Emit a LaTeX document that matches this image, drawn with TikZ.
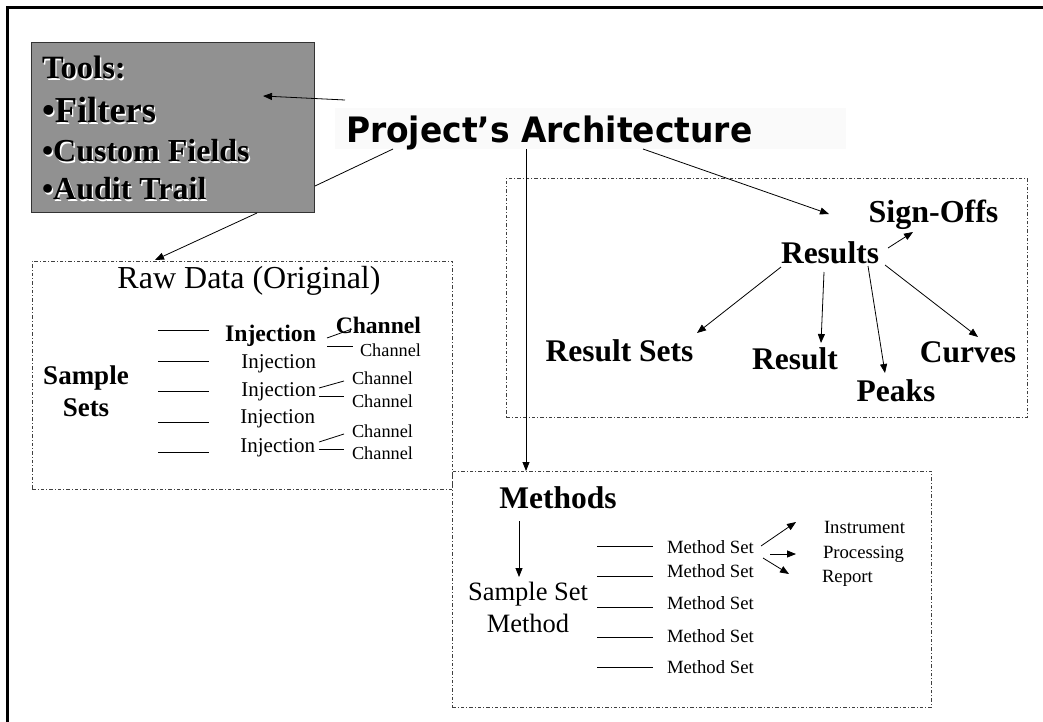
\documentclass[tikz,border=0pt]{standalone}
\usepackage{fontspec}
\setmainfont{Liberation Serif}
\newfontfamily\titlefont[FakeStretch=0.94]{DejaVu Sans}
\usetikzlibrary{arrows.meta}
\tikzset{
  lbl/.style={inner sep=0pt,outer sep=0pt,anchor=base,text=black},
  mid/.style={lbl,font=\fontsize{31.5}{31.5}\selectfont\bfseries},
  ser/.style={lbl,font=\fontsize{21}{21}\selectfont},
  small/.style={lbl,font=\fontsize{18.3}{18.3}\selectfont},
  tiny/.style={lbl,font=\fontsize{18.7}{18.7}\selectfont},
  toolt/.style={lbl,anchor=base west},
  zone/.style={draw=black!75,line width=0.8pt,dash pattern=on 3.5pt off 2pt on 1pt off 2pt},
  arr/.style={draw=black,line width=0.8pt,-{Triangle[length=9pt,width=7pt]}},
  ln/.style={draw=black,line width=0.8pt}
}
\newcommand{\shad}[1]{\rlap{\kern1.3pt\raisebox{-1.3pt}{\textcolor{white}{#1}}}#1}
\begin{document}
\begin{tikzpicture}[x=1pt,y=-1pt]
\useasboundingbox (0,0) rectangle (1043,722);
\fill[white] (0,0) rectangle (1043,722);
\draw[black,line width=3pt] (7.5,722) -- (7.5,7.5) -- (1043,7.5);
% tools box
\node[draw=black!80,fill=black!43,line width=0.8pt,minimum width=283pt,minimum height=170pt,inner sep=0pt,anchor=north west] (tools) at (31,42) {};
\node[toolt,font=\fontsize{32.5}{32.5}\selectfont\bfseries] (t1) at (42,79) {\shad{Tools:}};
\node[toolt,font=\fontsize{36.5}{36.5}\selectfont\bfseries] (t2) at (42,123) {\shad{•Filters}};
\node[toolt,font=\fontsize{32}{32}\selectfont\bfseries] (t3) at (42,162) {\shad{•Custom Fields}};
\node[toolt,font=\fontsize{32}{32}\selectfont\bfseries] (t4) at (42,200) {\shad{•Audit Trail}};
% title
\node[fill=black!2,minimum width=511pt,minimum height=41pt,inner sep=0pt,anchor=north west] (titlebg) at (335,108) {};
\node[lbl,anchor=base west,font=\titlefont\fontsize{35}{35}\selectfont\bfseries] (title) at (346,143) {Project’s Architecture};
% zones
\node[zone,minimum width=420pt,minimum height=228pt,inner sep=0pt,anchor=north west] (raw) at (32,261) {};
\node[zone,minimum width=521pt,minimum height=239pt,inner sep=0pt,anchor=north west] (res) at (506,178) {};
\node[zone,minimum width=479pt,minimum height=236pt,inner sep=0pt,anchor=north west] (meth) at (452,471) {};
% title arrows
\coordinate (a1s) at (345,100);
\coordinate (a1e) at (263,96);
\draw[arr] (a1s) -- (a1e);
\coordinate (a2s) at (393,149);
\coordinate (a2t) at (315,186);
\coordinate (a2m) at (257,213);
\coordinate (a2e) at (155,260);
\draw[ln] (a2s) -- (a2t);
\draw[arr] (a2m) -- (a2e);
\coordinate (a3s) at (526,149);
\coordinate (a3e) at (526,471);
\draw[arr] (a3s) -- (a3e);
\coordinate (a4s) at (643,149);
\coordinate (a4e) at (829,214);
\draw[arr] (a4s) -- (a4e);
% raw data
\node[lbl,font=\fontsize{32}{32}\selectfont] (rawt) at (249,288) {Raw Data (Original)};
\node[lbl,font=\fontsize{27}{27}\selectfont\bfseries] (ss1) at (86,384) {Sample};
\node[lbl,font=\fontsize{27}{27}\selectfont\bfseries] (ss2) at (86,416) {Sets};
\foreach \y [count=\i] in {330,361,391,422,452}{
  \coordinate (rl\i a) at (158,\y);
  \coordinate (rl\i b) at (209,\y);
  \draw[ln] (rl\i a) -- (rl\i b);
}
\node[lbl,anchor=base east,font=\fontsize{23.7}{23.7}\selectfont\bfseries] (i1) at (316,341) {Injection};
\node[ser,anchor=base east] (i2) at (316,368) {Injection};
\node[ser,anchor=base east] (i3) at (316,396) {Injection};
\node[ser,anchor=base east] (i4) at (315,423) {Injection};
\node[ser,anchor=base east] (i5) at (315,452) {Injection};
\node[lbl,anchor=base east,font=\fontsize{23.6}{23.6}\selectfont\bfseries] (c1) at (421,333) {Channel};
\node[small,anchor=base east] (c2) at (421,356) {Channel};
\node[small,anchor=base east] (c3) at (413,384) {Channel};
\node[small,anchor=base east] (c4) at (413,407) {Channel};
\node[small,anchor=base east] (c5) at (413,437) {Channel};
\node[small,anchor=base east] (c6) at (413,459) {Channel};
\coordinate (l1a) at (327,338); \coordinate (l1b) at (352,329);
\coordinate (l2a) at (327,346); \coordinate (l2b) at (353,346);
\coordinate (l3a) at (319,388); \coordinate (l3b) at (344,381);
\coordinate (l4a) at (319,396); \coordinate (l4b) at (344,396);
\coordinate (l5a) at (319,442); \coordinate (l5b) at (344,434);
\coordinate (l6a) at (319,449); \coordinate (l6b) at (344,449);
\foreach \k in {1,...,6}{\draw[ln] (l\k a) -- (l\k b);}
% results
\node[mid,font=\fontsize{32}{32}\selectfont\bfseries] (signoff) at (933.5,222) {Sign-Offs};
\node[mid] (results) at (830,263) {Results};
\node[mid] (rsets) at (619.5,361) {Result Sets};
\node[mid] (result) at (795,369) {Result};
\node[mid] (peaks) at (896,401) {Peaks};
\node[mid] (curves) at (968,362) {Curves};
\coordinate (r1a) at (888,248); \coordinate (r1b) at (913,232);
\coordinate (r2a) at (781,267); \coordinate (r2b) at (697,333);
\coordinate (r3a) at (824,272); \coordinate (r3b) at (821,343);
\coordinate (r4a) at (868,266); \coordinate (r4b) at (885,373);
\coordinate (r5a) at (885,265); \coordinate (r5b) at (978,337);
\foreach \k in {1,...,5}{\draw[arr] (r\k a) -- (r\k b);}
% methods
\node[mid] (methods) at (558,508) {Methods};
\coordinate (m1a) at (519,521); \coordinate (m1b) at (519,577);
\draw[arr] (m1a) -- (m1b);
\node[lbl,font=\fontsize{26.5}{26.5}\selectfont] (ssm1) at (528,600) {Sample Set};
\node[lbl,font=\fontsize{26.5}{26.5}\selectfont] (ssm2) at (528,632) {Method};
\foreach \y/\ty [count=\i] in {546/553,576/577,607/609,637/642,667/673}{
  \coordinate (ml\i a) at (597,\y);
  \coordinate (ml\i b) at (653,\y);
  \draw[ln] (ml\i a) -- (ml\i b);
  \node[tiny,anchor=base west] (ms\i) at (667,\ty) {Method Set};
}
\coordinate (e1a) at (761,546); \coordinate (e1b) at (796,522);
\coordinate (e2a) at (770,554); \coordinate (e2b) at (796,554);
\coordinate (e3a) at (763,558); \coordinate (e3b) at (789,574);
\foreach \k in {1,2,3}{\draw[arr] (e\k a) -- (e\k b);}
\node[tiny,anchor=base west] (inst) at (824,533) {Instrument};
\node[tiny,anchor=base west] (proc) at (823,558) {Processing};
\node[tiny,anchor=base west] (rep) at (822,582) {Report};
\end{tikzpicture}
\end{document}
